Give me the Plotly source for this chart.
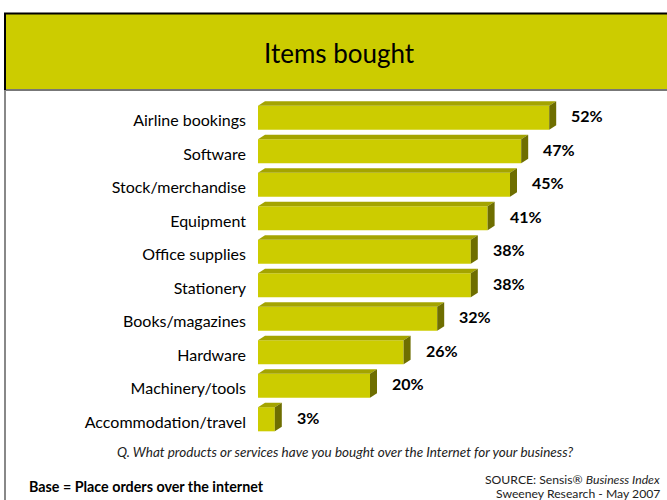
import plotly.graph_objects as go

# Survey results: share of businesses that bought each item online
categories = [
    "Airline bookings", "Software", "Stock/merchandise", "Equipment",
    "Office supplies", "Stationery", "Books/magazines", "Hardware",
    "Machinery/tools", "Accommodation/travel",
]
values = [52, 47, 45, 41, 38, 38, 32, 26, 20, 3]
value_labels = [f"{v}%" for v in values]

title_text = "Items bought"
question_text = "Q. What products or services have you bought over the Internet for your business?"
base_text = "Base = Place orders over the internet"
source_line1 = "SOURCE: Sensis® <i>Business Index</i>"
source_line2 = "Sweeney Research - May 2007"

# Canvas and plotting area (pixels)
W, H = 667, 500
ML, MR, MT, MB = 258, 17, 101, 64
PW, PH = W - ML - MR, H - MT - MB
X_MAX = 70

FRONT = "#CCCC00"
TOP = "#A4A400"
SIDE = "#6E6E00"
FONT = "Lato, 'Open Sans', sans-serif"


def px(x):
    return (x - ML) / PW


def py(y):
    return 1 - (y - MT) / PH


n = len(categories)
ypos = list(range(n - 1, -1, -1))  # first category at the top
bar_w = 0.72
depth_x = 7 / (PW / X_MAX)        # 3D depth in data units
depth_y = 4.5 / (PH / n)

fig = go.Figure()
fig.add_trace(go.Bar(
    x=values, y=ypos, orientation="h", width=bar_w,
    marker=dict(color=FRONT, line=dict(width=0)),
    hoverinfo="skip",
))

shapes = []
annotations = []
for v, y, lab in zip(values, ypos, value_labels):
    t = y + bar_w / 2
    b = y - bar_w / 2
    # top face
    shapes.append(dict(
        type="path", xref="x", yref="y", line=dict(width=0), fillcolor=TOP,
        path=f"M0,{t} L{v},{t} L{v + depth_x},{t + depth_y} L{depth_x},{t + depth_y} Z",
    ))
    # side face
    shapes.append(dict(
        type="path", xref="x", yref="y", line=dict(width=0), fillcolor=SIDE,
        path=f"M{v},{b} L{v},{t} L{v + depth_x},{t + depth_y} L{v + depth_x},{b + depth_y} Z",
    ))
    annotations.append(dict(
        x=v + depth_x, y=y + depth_y / 2, xref="x", yref="y", text=f"<b>{lab}</b>",
        showarrow=False, xanchor="left", yanchor="middle", xshift=13,
        font=dict(family=FONT, size=16, color="black"),
    ))

# Header band
shapes.append(dict(type="rect", xref="paper", yref="paper",
                   x0=px(4), x1=px(670), y0=py(90), y1=py(13),
                   fillcolor=FRONT, line=dict(width=0), layer="below"))
shapes.append(dict(type="line", xref="paper", yref="paper",
                   x0=px(4), x1=px(670), y0=py(13.5), y1=py(13.5),
                   line=dict(color="black", width=2)))
shapes.append(dict(type="line", xref="paper", yref="paper",
                   x0=px(4), x1=px(670), y0=py(90), y1=py(90),
                   line=dict(color="#777777", width=2)))
shapes.append(dict(type="line", xref="paper", yref="paper",
                   x0=px(5), x1=px(5), y0=py(13), y1=py(90),
                   line=dict(color="black", width=2)))
shapes.append(dict(type="line", xref="paper", yref="paper",
                   x0=px(5), x1=px(5), y0=py(90), y1=py(502),
                   line=dict(color="#888888", width=2)))

annotations += [
    dict(x=px(339), y=py(53), xref="paper", yref="paper", text=title_text,
         showarrow=False, xanchor="center", yanchor="middle",
         font=dict(family=FONT, size=26, color="black")),
    dict(x=px(345), y=py(452), xref="paper", yref="paper", text=f"<i>{question_text}</i>",
         showarrow=False, xanchor="center", yanchor="middle",
         font=dict(family=FONT, size=13.5, color="#222222")),
    dict(x=px(27), y=py(487), xref="paper", yref="paper", text=f"<b>{base_text}</b>",
         showarrow=False, xanchor="left", yanchor="middle",
         font=dict(family=FONT, size=14.3, color="black")),
    dict(x=px(662), y=py(479), xref="paper", yref="paper", text=source_line1,
         showarrow=False, xanchor="right", yanchor="middle",
         font=dict(family=FONT, size=12.2, color="#222222")),
    dict(x=px(578), y=py(493), xref="paper", yref="paper", text=source_line2,
         showarrow=False, xanchor="center", yanchor="middle",
         font=dict(family=FONT, size=12.2, color="#222222")),
]

fig.update_layout(
    width=W, height=H,
    margin=dict(l=ML, r=MR, t=MT, b=MB, pad=0),
    paper_bgcolor="white", plot_bgcolor="white",
    showlegend=False,
    shapes=shapes, annotations=annotations,
    xaxis=dict(range=[0, X_MAX], visible=False, fixedrange=True),
    yaxis=dict(range=[-0.5, n - 0.5], tickvals=ypos, ticktext=categories,
               showgrid=False, zeroline=False, showline=False, ticks="",
               ticklabelstandoff=11, ticklabelshift=3,
               tickfont=dict(family=FONT, size=16, color="black"),
               fixedrange=True),
)

fig.write_html("out.html", config={"displayModeBar": False})
